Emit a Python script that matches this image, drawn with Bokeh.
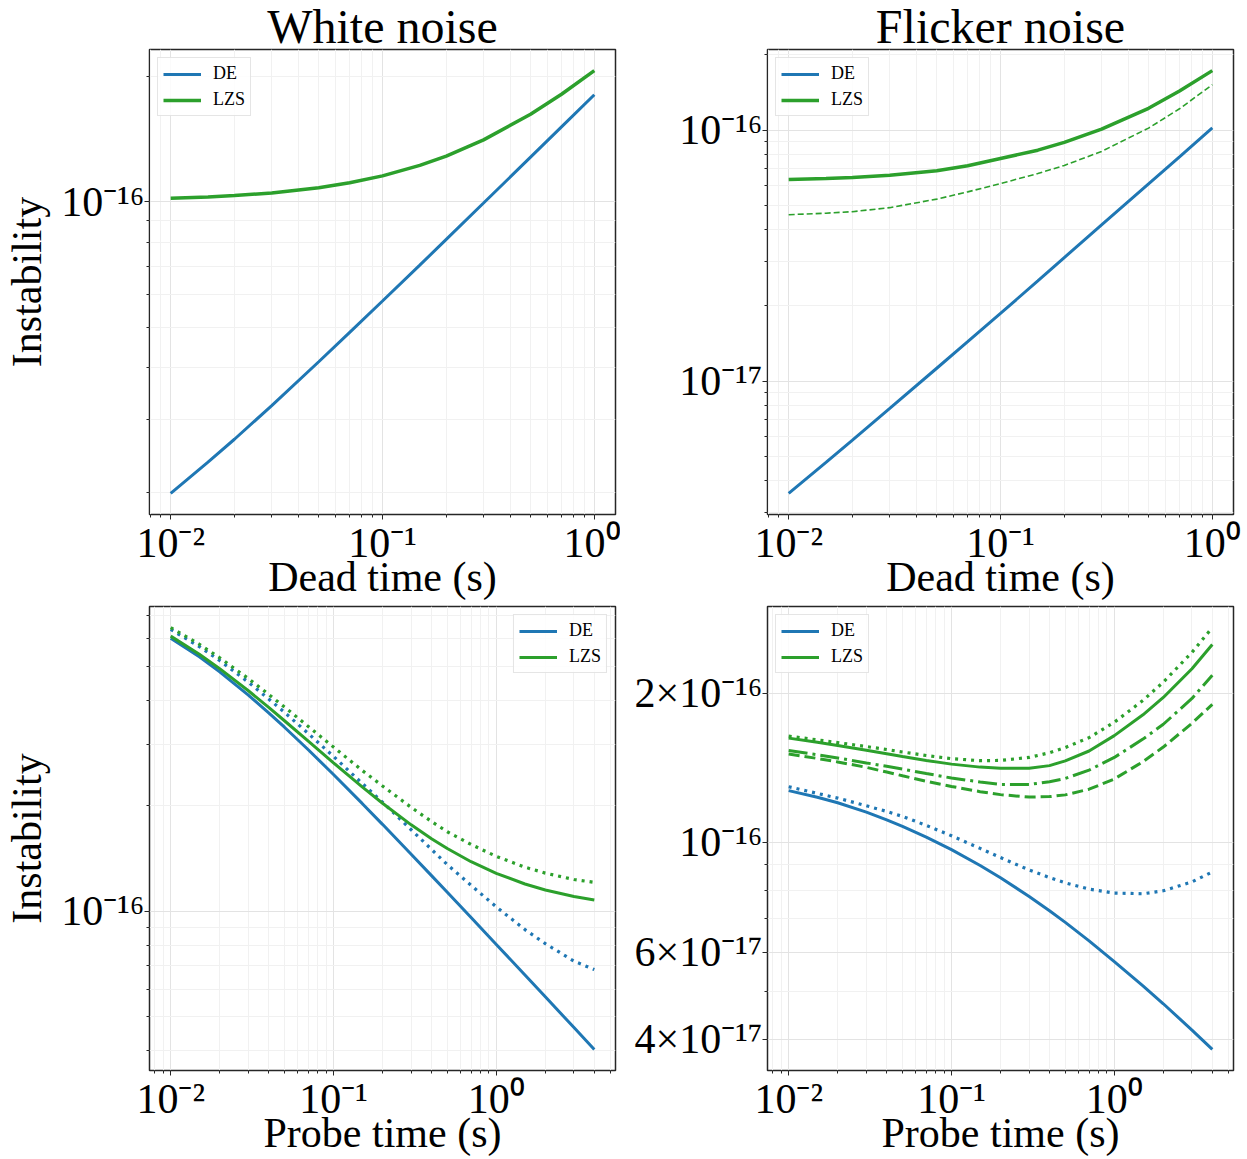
import math
from bokeh.plotting import figure
from bokeh.layouts import column, row
from bokeh.models import (Range1d, FixedTicker, CustomJSTickFormatter, Legend, LegendItem)
from bokeh.embed import file_html
from bokeh.resources import INLINE

# ---------------- data ----------------
dead_time = [0.01, 0.015, 0.02, 0.03, 0.05, 0.07, 0.1, 0.15, 0.2, 0.3, 0.5, 0.7, 1.0]

white_dead_de = [1.994e-17, 2.37e-17, 2.69e-17, 3.24e-17, 4.13e-17, 4.86e-17, 5.78e-17,
                 7.05e-17, 8.13e-17, 9.94e-17, 1.281e-16, 1.515e-16, 1.810e-16]
white_dead_lzs = [1.020e-16, 1.028e-16, 1.036e-16, 1.051e-16, 1.082e-16, 1.112e-16, 1.155e-16,
                  1.224e-16, 1.289e-16, 1.410e-16, 1.625e-16, 1.815e-16, 2.068e-16]

flicker_dead_de = [3.57e-18, 4.74e-18, 5.82e-18, 7.78e-18, 1.125e-17, 1.435e-17, 1.862e-17,
                   2.506e-17, 3.105e-17, 4.19e-17, 6.11e-17, 7.83e-17, 1.021e-16]
flicker_dead_lzs = [6.353e-17, 6.412e-17, 6.471e-17, 6.607e-17, 6.887e-17, 7.211e-17, 7.709e-17,
                    8.318e-17, 8.933e-17, 1.0093e-16, 1.2218e-16, 1.4322e-16, 1.7258e-16]
flicker_dead_lzs_dashed = [4.603e-17, 4.667e-17, 4.732e-17, 4.909e-17, 5.309e-17, 5.675e-17, 6.124e-17,
                           6.714e-17, 7.228e-17, 8.222e-17, 1.0186e-16, 1.2162e-16, 1.5171e-16]

probe_time = [0.01, 0.015, 0.02, 0.03, 0.04, 0.05, 0.07, 0.1, 0.15, 0.2, 0.3, 0.4, 0.5, 0.7,
              1.0, 1.5, 2.0, 3.0, 4.0]

white_probe_de = [6.023e-16, 5.328e-16, 4.829e-16, 4.145e-16, 3.688e-16, 3.355e-16, 2.893e-16,
                  2.459e-16, 2.033e-16, 1.772e-16, 1.456e-16, 1.265e-16, 1.134e-16, 9.603e-17,
                  8.048e-17, 6.580e-17, 5.702e-17, 4.659e-17, 4.036e-17]
white_probe_de_dotted = [6.38e-16, 5.70e-16, 5.20e-16, 4.51e-16, 4.04e-16, 3.70e-16, 3.22e-16,
                         2.77e-16, 2.32e-16, 2.05e-16, 1.71e-16, 1.503e-16, 1.36e-16, 1.187e-16,
                         1.03e-16, 8.87e-17, 8.09e-17, 7.21e-17, 6.82e-17]
white_probe_lzs = [6.105e-16, 5.421e-16, 4.931e-16, 4.264e-16, 3.821e-16, 3.501e-16, 3.061e-16,
                   2.655e-16, 2.266e-16, 2.035e-16, 1.766e-16, 1.612e-16, 1.512e-16, 1.386e-16,
                   1.284e-16, 1.197e-16, 1.151e-16, 1.103e-16, 1.078e-16]
white_probe_lzs_dotted = [6.458e-16, 5.787e-16, 5.295e-16, 4.620e-16, 4.162e-16, 3.833e-16, 3.372e-16,
                          2.945e-16, 2.526e-16, 2.281e-16, 1.981e-16, 1.805e-16, 1.688e-16, 1.552e-16,
                          1.436e-16, 1.337e-16, 1.286e-16, 1.233e-16, 1.210e-16]

flicker_probe_de = [1.2706e-16, 1.2326e-16, 1.2009e-16, 1.1498e-16, 1.1094e-16, 1.0765e-16, 1.0242e-16,
                    9.661e-17, 8.974e-17, 8.477e-17, 7.773e-17, 7.272e-17, 6.890e-17, 6.324e-17,
                    5.741e-17, 5.129e-17, 4.721e-17, 4.178e-17, 3.819e-17]
flicker_probe_de_dotted = [1.2942e-16, 1.2544e-16, 1.2274e-16, 1.1845e-16, 1.1535e-16, 1.1272e-16, 1.0814e-16,
                           1.0304e-16, 9.716e-17, 9.311e-17, 8.790e-17, 8.483e-17, 8.279e-17, 8.044e-17,
                           7.897e-17, 7.870e-17, 7.980e-17, 8.318e-17, 8.710e-17]
flicker_probe_lzs = [1.6218e-16, 1.5903e-16, 1.5668e-16, 1.5329e-16, 1.5084e-16, 1.4894e-16, 1.4622e-16,
                     1.4372e-16, 1.4174e-16, 1.4093e-16, 1.4093e-16, 1.4273e-16, 1.4588e-16, 1.5276e-16,
                     1.6406e-16, 1.8072e-16, 1.9588e-16, 2.2387e-16, 2.5061e-16]
flicker_probe_lzs_dotted = [1.6368e-16, 1.6088e-16, 1.5885e-16, 1.5596e-16, 1.5382e-16, 1.5205e-16, 1.4962e-16,
                            1.4740e-16, 1.4605e-16, 1.4622e-16, 1.4825e-16, 1.5153e-16, 1.5524e-16, 1.6255e-16,
                            1.7458e-16, 1.9320e-16, 2.1038e-16, 2.4155e-16, 2.7102e-16]
flicker_probe_lzs_dashdot = [1.5311e-16, 1.5015e-16, 1.4791e-16, 1.4454e-16, 1.4230e-16, 1.4045e-16, 1.3757e-16,
                             1.3475e-16, 1.3230e-16, 1.3078e-16, 1.3078e-16, 1.3243e-16, 1.3444e-16, 1.3979e-16,
                             1.4825e-16, 1.6144e-16, 1.7298e-16, 1.9498e-16, 2.1727e-16]
flicker_probe_lzs_dashed = [1.5066e-16, 1.4757e-16, 1.4521e-16, 1.4158e-16, 1.3852e-16, 1.3614e-16, 1.3274e-16,
                            1.2957e-16, 1.2647e-16, 1.2474e-16, 1.2331e-16, 1.2359e-16, 1.2459e-16, 1.2794e-16,
                            1.3413e-16, 1.4538e-16, 1.5560e-16, 1.7378e-16, 1.8967e-16]

titles = ["White noise", "Flicker noise"]
x_labels = ["Dead time (s)", "Probe time (s)"]
y_label = "Instability"
legend_labels = ["DE", "LZS"]

x_tick_values = [0.01, 0.1, 1.0]
x_tick_labels = ["10\u207b\u00b2", "10\u207b\u00b9", "10\u2070"]
y_ticks_white_dead = [1e-16]
y_labels_white_dead = ["10\u207b\u00b9\u2076"]
y_ticks_flicker_dead = [1e-17, 1e-16]
y_labels_flicker_dead = ["10\u207b\u00b9\u2077", "10\u207b\u00b9\u2076"]
y_ticks_white_probe = [1e-16]
y_labels_white_probe = ["10\u207b\u00b9\u2076"]
y_ticks_flicker_probe = [4e-17, 6e-17, 1e-16, 2e-16]
y_labels_flicker_probe = ["4\u00d710\u207b\u00b9\u2077", "6\u00d710\u207b\u00b9\u2077",
                          "10\u207b\u00b9\u2076", "2\u00d710\u207b\u00b9\u2076"]

# ---------------- styling ----------------
BLUE = "#1f77b4"
GREEN = "#2ca02c"
FONT = "Liberation Serif"
FRAME_W = 466


def minor_ticks(lo_exp, hi_exp):
    return [m * 10.0 ** e for e in range(lo_exp, hi_exp + 1) for m in range(2, 10)]


def log_range(values_list, margin=0.05):
    lo = min(min(v) for v in values_list)
    hi = max(max(v) for v in values_list)
    a, b = math.log10(lo), math.log10(hi)
    d = (b - a) * margin
    return Range1d(10 ** (a - d), 10 ** (b + d))


def formatter(vals, labels):
    return CustomJSTickFormatter(args=dict(vals=vals, labels=labels), code="""
        let best = 0, bd = Infinity;
        for (let i = 0; i < vals.length; i++) {
            const d = Math.abs(Math.log10(tick) - Math.log10(vals[i]));
            if (d < bd) { bd = d; best = i; }
        }
        return labels[best];
    """)


def make_fig(xs, ys_all, yticks, ylabels, frame_h, borders, title=None, xlabel=None, ylabel=None):
    bl, br, bt, bb = borders
    p = figure(x_axis_type="log", y_axis_type="log",
               x_range=log_range([xs]), y_range=log_range(ys_all),
               frame_width=FRAME_W, frame_height=frame_h,
               min_border_left=bl, min_border_right=br, min_border_top=bt, min_border_bottom=bb,
               output_backend="svg", toolbar_location=None)
    p.background_fill_color = "white"
    p.border_fill_color = "white"
    p.outline_line_color = "#262626"
    p.outline_line_width = 1.5

    p.xaxis.ticker = FixedTicker(ticks=x_tick_values, minor_ticks=minor_ticks(-3, 1))
    p.xaxis.formatter = formatter(x_tick_values, x_tick_labels)
    p.yaxis.ticker = FixedTicker(ticks=yticks, minor_ticks=[t for t in minor_ticks(-19, -15) if t not in yticks])
    p.yaxis.formatter = formatter(yticks, ylabels)

    for ax in (p.xaxis, p.yaxis):
        ax.axis_line_color = None
        ax.major_tick_line_color = "#262626"
        ax.minor_tick_line_color = "#262626"
        ax.major_tick_out = 5
        ax.major_tick_in = 0
        ax.minor_tick_out = 3
        ax.minor_tick_in = 0
        ax.major_label_text_font = FONT
        ax.major_label_text_font_size = "42px"
        ax.major_label_text_color = "black"
        ax.major_label_standoff = 0
        ax.axis_label_text_font = FONT
        ax.axis_label_text_font_size = "42px"
        ax.axis_label_text_font_style = "normal"
        ax.axis_label_text_color = "black"

    if xlabel:
        p.xaxis.axis_label = xlabel
        p.xaxis.axis_label_standoff = -15
    if ylabel:
        p.yaxis.axis_label = ylabel
        p.yaxis.axis_label_standoff = 8

    for g in (p.xgrid, p.ygrid):
        g.grid_line_color = "#e3e3e3"
        g.grid_line_width = 1
        g.minor_grid_line_color = "#f1f1f1"
        g.minor_grid_line_width = 1

    if title:
        p.title.text = title
        p.title.align = "center"
        p.title.text_font = FONT
        p.title.text_font_size = "48px"
        p.title.text_font_style = "normal"
        p.title.text_color = "black"
        p.title.standoff = -6.6
    return p


def add_legend(p, r_de, r_lzs, location):
    leg = Legend(items=[LegendItem(label=legend_labels[0], renderers=[r_de]),
                        LegendItem(label=legend_labels[1], renderers=[r_lzs])],
                 location=location)
    leg.label_text_font = FONT
    leg.label_text_font_size = "18px"
    leg.label_text_color = "black"
    leg.glyph_width = 38
    leg.glyph_height = 18
    leg.label_standoff = 12
    leg.spacing = 5
    leg.padding = 5
    leg.margin = 8
    leg.border_line_color = "#cccccc"
    leg.border_line_width = 1
    leg.background_fill_alpha = 0.85
    p.add_layout(leg)


# Panel 1: white noise vs dead time
p1 = make_fig(dead_time, [white_dead_de, white_dead_lzs], y_ticks_white_dead, y_labels_white_dead,
              465, (149, 5, 49, 91), title=titles[0], xlabel=x_labels[0], ylabel=y_label)
r1a = p1.line(dead_time, white_dead_de, line_color=BLUE, line_width=3)
r1b = p1.line(dead_time, white_dead_lzs, line_color=GREEN, line_width=3.5)
add_legend(p1, r1a, r1b, "top_left")

# Panel 2: flicker noise vs dead time
p2 = make_fig(dead_time, [flicker_dead_de, flicker_dead_lzs, flicker_dead_lzs_dashed],
              y_ticks_flicker_dead, y_labels_flicker_dead,
              465, (147, 14, 49, 91), title=titles[1], xlabel=x_labels[0])
r2a = p2.line(dead_time, flicker_dead_de, line_color=BLUE, line_width=3)
r2b = p2.line(dead_time, flicker_dead_lzs, line_color=GREEN, line_width=3.5)
p2.line(dead_time, flicker_dead_lzs_dashed, line_color=GREEN, line_width=1.6, line_dash="6 3")
add_legend(p2, r2a, r2b, "top_left")

# Panel 3: white noise vs probe time
p3 = make_fig(probe_time, [white_probe_de, white_probe_de_dotted, white_probe_lzs, white_probe_lzs_dotted],
              y_ticks_white_probe, y_labels_white_probe,
              464, (149, 5, 1, 89), xlabel=x_labels[1], ylabel=y_label)
r3a = p3.line(probe_time, white_probe_de, line_color=BLUE, line_width=3)
p3.line(probe_time, white_probe_de_dotted, line_color=BLUE, line_width=3.2, line_dash="3 5")
r3b = p3.line(probe_time, white_probe_lzs, line_color=GREEN, line_width=3)
p3.line(probe_time, white_probe_lzs_dotted, line_color=GREEN, line_width=3.2, line_dash="3 5")
add_legend(p3, r3a, r3b, "top_right")

# Panel 4: flicker noise vs probe time
p4 = make_fig(probe_time, [flicker_probe_de, flicker_probe_de_dotted, flicker_probe_lzs,
                           flicker_probe_lzs_dotted, flicker_probe_lzs_dashdot, flicker_probe_lzs_dashed],
              y_ticks_flicker_probe, y_labels_flicker_probe,
              464, (147, 14, 1, 89), xlabel=x_labels[1])
r4a = p4.line(probe_time, flicker_probe_de, line_color=BLUE, line_width=3)
p4.line(probe_time, flicker_probe_de_dotted, line_color=BLUE, line_width=3.2, line_dash="3 5")
r4b = p4.line(probe_time, flicker_probe_lzs, line_color=GREEN, line_width=3)
p4.line(probe_time, flicker_probe_lzs_dotted, line_color=GREEN, line_width=3.2, line_dash="3 5")
p4.line(probe_time, flicker_probe_lzs_dashdot, line_color=GREEN, line_width=3, line_dash="19 5 3 5")
p4.line(probe_time, flicker_probe_lzs_dashed, line_color=GREEN, line_width=3, line_dash="11 5")
add_legend(p4, r4a, r4b, "top_left")

layout = column(row(p1, p2), row(p3, p4))
open("out.html", "w").write(file_html(layout, INLINE))
